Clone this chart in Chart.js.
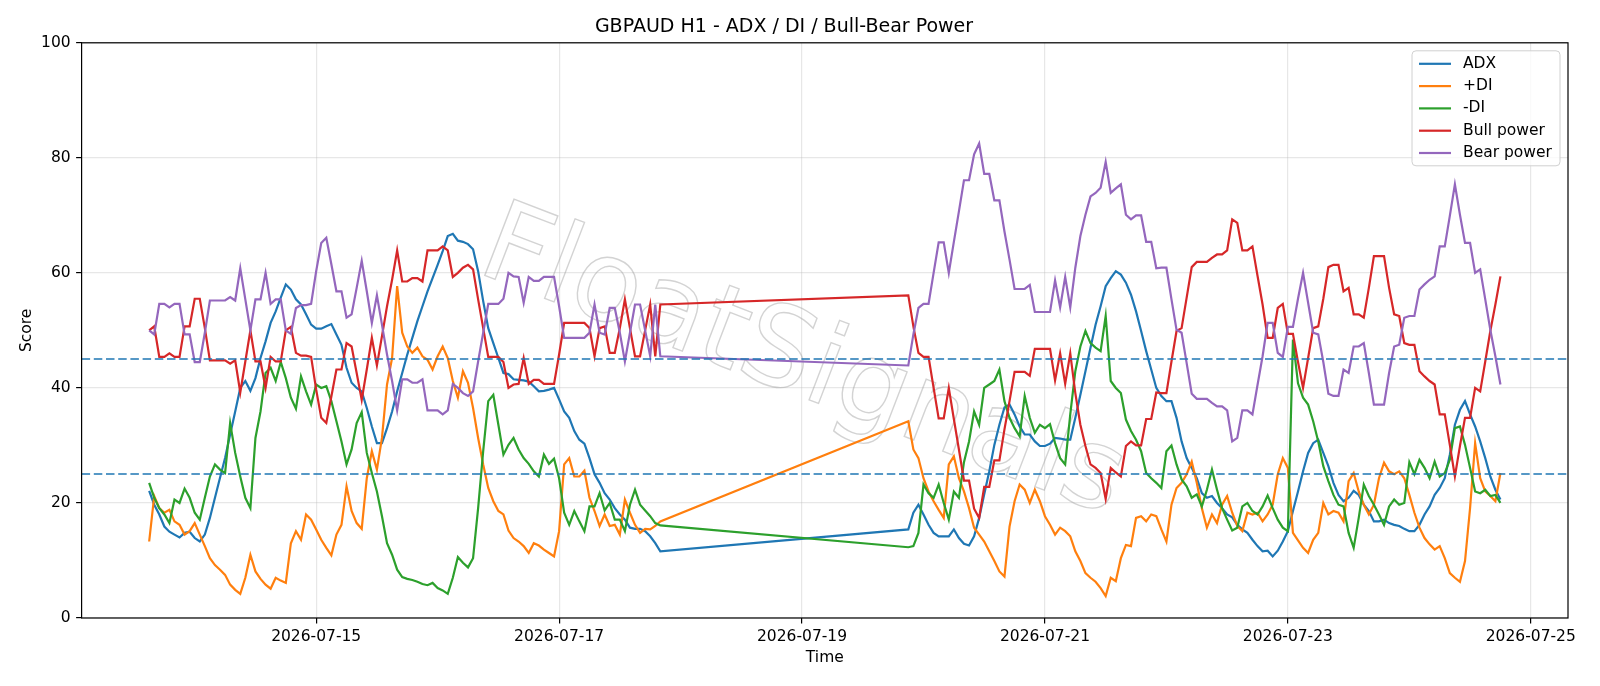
<!DOCTYPE html>
<html><head><meta charset="utf-8">
<script src="https://cdn.jsdelivr.net/npm/chart.js@4.4.1/dist/chart.umd.min.js"></script>
<style>html,body{margin:0;padding:0;background:#fff}#wrap{width:1600px;height:686px}</style>
</head><body><div id="wrap"><canvas id="c" width="1600" height="686"></canvas></div>
<script>
// ---- data (hourly bars; weekend gap between the two segments) ----
const segAStart = '2026-07-13T15:00:00Z';
const segBStart = '2026-07-19T21:00:00Z';
const xTickLabels = ['2026-07-15','2026-07-17','2026-07-19','2026-07-21','2026-07-23','2026-07-25'];
const seriesLabels = ['ADX','+DI','-DI','Bull power','Bear power'];
const guideLevels = [45, 25];

const adxA = [22.1,19.7,18.0,15.9,15.0,14.5,14.0,14.8,15.0,13.9,13.3,14.5,17.4,20.9,24.4,27.8,31.9,35.9,40.0,41.2,39.5,41.7,45.2,48.1,51.3,53.3,55.7,58.0,57.1,55.4,54.5,52.8,51.0,50.3,50.3,50.7,
51.1,49.3,47.5,43.5,40.9,40.0,39.4,36.5,33.3,30.4,30.4,33.0,35.9,39.4,42.6,45.8,48.7,51.6,54.2,56.8,59.1,61.4,63.8,66.4,66.8,65.6,65.4,65.0,64.1,60.3,55.1,50.4,47.8,45.2,42.6,42.4,41.5,
41.4,41.3,41.1,40.3,39.4,39.5,39.7,40.0,38.0,35.9,34.8,32.5,31.0,30.3,27.8,25.0,23.5,21.7,20.6,19.1,18.0,17.1,15.7,15.5,15.5,15.1,14.2,13.0,11.6];
const adxB = [15.4,18.3,19.7,18.0,16.2,14.8,14.2,14.2,14.2,15.4,13.9,12.9,12.6,14.2,17.4,21.5,25.5,30.1,33.6,36.6,37.1,35.4,33.3,31.9,31.9,30.7,29.9,29.9,30.3,31.3,31.2,31.0,31.0,34.8,38.8,42.9,47.0,51.0,
54.2,57.7,59.1,60.3,59.7,58.3,56.2,53.3,49.9,46.4,43.2,40.0,38.6,37.7,37.7,34.8,30.7,27.8,26.1,24.3,21.7,20.9,21.2,20.0,19.1,18.0,17.5,16.2,15.4,14.8,13.6,12.5,11.6,11.7,10.7,11.7,13.3,15.1,18.6,22.0,
25.5,28.7,30.4,31.0,28.7,26.4,23.5,21.4,20.3,20.9,22.1,21.4,19.7,18.6,16.8,16.8,17.1,16.5,16.2,16.0,15.5,15.1,15.1,16.2,18.0,19.4,21.4,22.6,24.3,28.4,33.6,36.2,37.7,35.4,33.3,30.7,27.8,24.6,22.3,20.6];

const plusDiA = [13.3,21.2,19.1,18.3,18.8,16.8,16.2,14.5,15.1,16.5,14.5,12.5,10.4,9.2,8.4,7.5,5.8,4.9,4.2,7.0,11.0,8.1,6.8,5.8,5.1,7.0,6.5,6.1,13.0,15.1,13.6,18.0,17.1,15.4,13.6,12.2,
10.9,14.5,16.2,22.9,18.6,16.5,15.5,24.3,29.0,25.8,31.3,40.6,45.2,57.7,49.6,47.2,46.1,47.0,45.5,44.9,43.2,45.5,47.2,45.2,41.2,38.3,42.9,40.9,36.5,31.3,26.7,22.6,20.3,18.6,18.0,15.2,13.9,
13.3,12.5,11.3,13.0,12.6,11.9,11.3,10.7,15.1,26.7,27.8,24.6,24.6,25.6,20.9,18.6,16.0,18.0,16.0,16.2,14.5,20.6,18.3,16.2,14.8,15.5,15.4,16.0,16.8];
const plusDiB = [34.2,29.3,27.8,24.3,22.0,20.3,18.8,17.4,26.7,28.1,24.3,22.0,19.1,15.7,14.5,13.3,11.6,9.9,8.1,7.2,15.9,20.3,23.2,22.3,20.0,22.3,20.3,17.7,16.2,14.5,15.7,15.1,14.2,11.6,9.9,7.8,7.0,6.3,
5.2,3.8,7.0,6.4,10.4,12.7,12.5,17.4,17.7,16.8,18.0,17.7,15.4,13.3,19.7,22.6,23.5,25.0,27.2,23.5,19.1,15.7,18.0,16.5,19.7,21.2,18.3,16.0,15.1,18.3,18.0,18.3,16.8,18.0,19.7,25.0,27.8,26.1,14.8,13.5,
12.2,11.3,13.6,14.8,20.0,18.0,18.6,18.3,16.8,23.8,25.2,22.0,19.7,18.0,19.7,24.3,27.0,25.5,25.0,25.5,24.3,21.4,18.3,15.7,13.9,12.8,11.9,12.5,10.4,7.8,7.0,6.3,9.9,19.1,30.4,24.3,22.0,21.2,20.3,25.2];

const minusDiA = [23.5,20.9,19.1,18.0,16.5,20.6,20.0,22.5,20.9,18.3,17.1,20.9,24.6,26.7,25.8,25.2,33.9,28.7,24.6,20.9,19.1,31.3,35.9,42.6,43.5,41.2,44.5,41.7,38.3,36.4,42.0,39.4,37.1,40.6,40.0,40.3,
37.7,34.2,30.7,26.7,29.3,33.9,35.8,28.7,25.2,22.0,17.7,13.0,11.0,8.4,7.1,6.8,6.6,6.3,5.9,5.7,6.1,5.2,4.8,4.2,7.0,10.6,9.6,8.8,10.4,19.1,29.0,37.7,38.8,33.6,28.4,30.1,31.3,
29.3,27.8,26.8,25.5,24.6,28.4,26.8,27.7,24.3,18.3,16.2,18.6,16.8,15.1,19.4,19.4,21.7,18.7,20.0,17.1,17.1,15.1,19.7,22.3,19.7,18.7,17.7,16.5,16.1];
const minusDiB = [12.3,12.5,14.8,23.2,21.7,20.9,23.2,20.0,17.1,22.0,20.9,27.1,30.7,35.9,33.6,40.0,40.6,41.2,43.2,37.7,34.8,33.0,31.6,38.6,34.8,32.2,33.6,33.0,33.7,30.4,27.8,26.7,35.4,42.9,47.2,49.9,47.8,47.0,
46.4,52.5,41.2,40.0,39.1,34.5,32.5,31.0,29.0,25.2,24.3,23.5,22.6,29.0,30.0,26.7,24.1,22.9,20.9,21.5,19.4,22.3,25.8,22.3,19.1,17.1,15.2,15.7,19.4,20.0,18.6,18.0,19.4,21.3,19.1,17.1,15.7,15.1,48.4,40.8,
38.3,37.1,34.2,30.7,26.4,23.8,21.4,19.7,19.4,14.8,12.2,17.4,23.2,21.2,19.7,18.0,16.2,19.4,20.6,19.7,20.0,27.1,25.0,27.5,26.1,24.3,27.2,24.6,25.2,27.5,33.0,33.3,30.1,26.1,22.0,21.7,22.3,21.2,21.4,20.0];

const bullA = [50.0,50.7,45.4,45.4,46.0,45.4,45.4,50.7,50.7,55.5,55.5,50.4,44.8,44.8,44.8,44.8,44.2,44.8,39.2,44.6,50.0,44.6,44.6,40.0,45.4,44.6,44.6,50.0,50.6,46.1,45.6,45.6,45.4,39.7,34.8,33.9,
38.5,43.2,43.2,47.8,47.2,42.6,37.9,43.2,48.7,43.9,49.0,54.2,58.8,63.9,58.5,58.5,59.1,59.1,58.5,63.9,63.9,63.9,64.6,63.9,59.3,60.0,60.9,61.4,60.6,55.4,50.4,45.4,45.4,45.4,44.5,40.0,40.6,
40.7,45.2,40.7,41.4,41.4,40.7,40.7,40.7,45.8,51.3,51.3,51.3,51.3,51.3,50.4,45.5,50.4,50.7,46.1,46.1,50.4,55.4,50.4,45.5,45.5,50.0,54.5,45.5,54.5];
const bullB = [56.1,50.7,46.1,45.4,45.4,40.0,34.7,34.7,40.0,34.6,29.3,23.9,23.9,19.0,17.4,22.8,22.8,27.4,27.4,32.8,37.7,42.8,42.8,42.8,42.1,46.8,46.8,46.8,46.8,41.3,46.0,40.7,46.0,39.1,33.6,29.9,26.7,26.1,
25.2,20.7,26.1,25.3,24.6,29.9,30.7,30.0,30.0,34.6,34.6,39.2,39.1,39.1,44.6,49.9,50.4,55.7,61.0,61.9,61.9,61.9,62.6,63.2,63.2,63.9,69.3,68.7,63.9,63.9,64.6,59.5,54.5,48.7,48.7,53.9,54.6,49.4,49.4,44.5,
40.0,45.2,50.4,50.7,55.5,61.0,61.4,61.4,56.8,57.4,52.8,52.8,52.2,57.4,62.9,62.9,62.9,57.4,52.8,52.5,47.8,47.5,47.5,42.9,42.0,41.2,40.6,35.4,35.4,30.1,24.6,29.9,34.8,34.8,40.0,39.4,44.6,49.9,54.5,59.4];

const bearA = [50.0,49.3,54.6,54.6,54.0,54.6,54.6,49.3,49.3,44.5,44.5,49.6,55.2,55.2,55.2,55.2,55.8,55.2,60.8,55.4,50.0,55.4,55.4,60.0,54.6,55.4,55.4,50.0,49.4,53.9,54.4,54.4,54.6,60.3,65.2,66.1,
61.5,56.8,56.8,52.2,52.8,57.4,62.1,56.8,51.3,56.1,51.0,45.8,41.2,36.1,41.5,41.5,40.9,40.9,41.5,36.1,36.1,36.1,35.4,36.1,40.7,40.0,39.1,38.6,39.4,44.6,49.6,54.6,54.6,54.6,55.5,60.0,59.4,
59.3,54.8,59.3,58.6,58.6,59.3,59.3,59.3,54.2,48.7,48.7,48.7,48.7,48.7,49.6,54.5,49.6,49.3,53.9,53.9,49.6,44.6,49.6,54.5,54.5,50.0,45.5,54.5,45.5];
const bearB = [43.9,49.3,53.9,54.6,54.6,60.0,65.3,65.3,60.0,65.4,70.7,76.1,76.1,80.6,82.5,77.2,77.2,72.6,72.6,67.2,62.3,57.2,57.2,57.2,57.9,53.2,53.2,53.2,53.2,58.7,54.0,59.3,54.0,60.9,66.4,70.1,73.3,73.9,
74.8,79.3,73.9,74.7,75.4,70.1,69.3,70.0,70.0,65.4,65.4,60.8,60.9,60.9,55.4,50.1,49.6,44.3,39.0,38.1,38.1,38.1,37.4,36.8,36.8,36.1,30.7,31.3,36.1,36.1,35.4,40.5,45.5,51.3,51.3,46.1,45.4,50.6,50.6,55.5,
60.0,54.8,49.6,49.3,44.5,39.0,38.6,38.6,43.2,42.6,47.2,47.2,47.8,42.6,37.1,37.1,37.1,42.6,47.2,47.5,52.2,52.5,52.5,57.1,58.0,58.8,59.4,64.6,64.6,69.9,75.4,70.1,65.2,65.2,60.0,60.6,55.4,50.1,45.5,40.6];

// ---- build ----
const HOUR = 3600000;
function hourly(startIso, n){ const t0 = Date.parse(startIso); const out=[]; for(let k=0;k<n;k++) out.push(t0 + k*HOUR); return out; }
const times = hourly(segAStart, adxA.length).concat(hourly(segBStart, adxB.length));
function pts(a, b){ return a.concat(b).map((v,k)=>({x: times[k], y: v})); }
const colors = ['#1f77b4','#ff7f0e','#2ca02c','#d62728','#9467bd'];
const seriesData = [pts(adxA,adxB), pts(plusDiA,plusDiB), pts(minusDiA,minusDiB), pts(bullA,bullB), pts(bearA,bearB)];
const tickValues = xTickLabels.map(s => Date.parse(s + 'T00:00:00Z'));
const span = times[times.length-1] - times[0];
const xMin = times[0] - span*0.05, xMax = times[times.length-1] + span*0.05;

const FONT = "'DejaVu Sans', sans-serif";
Chart.defaults.font.family = FONT;
Chart.defaults.color = '#000';

const frameAndGuides = {
  id: 'frameAndGuides',
  beforeDatasetsDraw(chart){
    const {ctx, chartArea:a} = chart;
    // watermark
    ctx.save();
    ctx.beginPath(); ctx.rect(a.left, a.top, a.right-a.left, a.bottom-a.top); ctx.clip();
    ctx.translate(802, 366);
    ctx.rotate(21*Math.PI/180);
    ctx.font = "112px " + FONT;
    ctx.textAlign = 'center'; ctx.textBaseline = 'middle';
    ctx.strokeStyle = 'rgba(150,150,150,0.42)'; ctx.lineWidth = 1.4;
    ctx.strokeText('FloatSignals', 0, 0);
    ctx.restore();
  },
  afterDatasetsDraw(chart){
    const {ctx, chartArea:a, scales:{y}} = chart;
    ctx.save();
    ctx.strokeStyle = '#1f77b4'; ctx.lineWidth = 1.6; ctx.setLineDash([8.5,3.7]);
    guideLevels.forEach(v => { const py = Math.round(y.getPixelForValue(v)); ctx.beginPath(); ctx.moveTo(a.left, py); ctx.lineTo(a.right, py); ctx.stroke(); });
    ctx.setLineDash([]);
    ctx.strokeStyle = '#000'; ctx.lineWidth = 1.2;
    ctx.strokeRect(a.left, a.top, a.right-a.left, a.bottom-a.top);
    // legend (matplotlib-like, upper right)
    const bw = 148, bh = 115, bx = a.right - 8 - bw, by = a.top + 8;
    ctx.beginPath();
    if (ctx.roundRect) ctx.roundRect(bx, by, bw, bh, 4); else ctx.rect(bx, by, bw, bh);
    ctx.fillStyle = 'rgba(255,255,255,0.8)'; ctx.fill();
    ctx.strokeStyle = '#d0d0d0'; ctx.lineWidth = 1; ctx.stroke();
    ctx.font = "15.5px " + FONT; ctx.textBaseline = 'middle'; ctx.textAlign = 'left'; ctx.fillStyle = '#000';
    seriesLabels.forEach((lab, k) => {
      const ry = by + 13 + k*22.3;
      ctx.strokeStyle = colors[k]; ctx.lineWidth = 2.2;
      ctx.beginPath(); ctx.moveTo(bx + 7, ry); ctx.lineTo(bx + 39, ry); ctx.stroke();
      ctx.fillText(lab, bx + 51, ry);
    });
    ctx.restore();
  }
};

new Chart(document.getElementById('c'), {
  type: 'line',
  data: { datasets: seriesLabels.map((lab,k)=>({
    label: lab, data: seriesData[k], borderColor: colors[k], backgroundColor: colors[k],
    borderWidth: 2.2, pointRadius: 0, tension: 0, fill: false, order: 5-k
  }))},
  options: {
    responsive: false, animation: false, devicePixelRatio: 1,
    layout: { padding: { top: 2, right: 32, left: 0, bottom: 0 } },
    plugins: {
      legend: { display: false }, tooltip: { enabled: false },
      title: { display: true, text: 'GBPAUD H1 - ADX / DI / Bull-Bear Power', color: '#000',
        font: { size: 19, weight: 'normal', family: FONT }, padding: { top: 14, bottom: 4 } }
    },
    scales: {
      x: { type: 'linear', min: xMin, max: xMax,
        afterFit(s){ s.height = 68; },
        afterBuildTicks(s){ s.ticks = tickValues.map(v => ({value: v})); },
        ticks: { autoSkip: false, maxRotation: 0, padding: 4, font: { size: 15.5 },
          callback(v){ const i = tickValues.indexOf(v); return i >= 0 ? xTickLabels[i] : ''; } },
        grid: { color: 'rgba(176,176,176,0.3)', lineWidth: 1.2, tickLength: 5.5, tickColor: '#000', tickWidth: 1.2 },
        border: { display: false },
        title: { display: true, text: 'Time', font: { size: 15.5 }, padding: { bottom: 19 } }
      },
      y: { min: 0, max: 100,
        afterFit(s){ s.width = 81.6; },
        ticks: { stepSize: 20, padding: 5.5, font: { size: 15.5 } },
        grid: { color: 'rgba(176,176,176,0.3)', lineWidth: 1.2, tickLength: 5.5, tickColor: '#000', tickWidth: 1.2 },
        border: { display: false },
        title: { display: true, text: 'Score', font: { size: 15.5 }, padding: { top: 18 } }
      }
    }
  },
  plugins: [frameAndGuides]
});
</script></body></html>
